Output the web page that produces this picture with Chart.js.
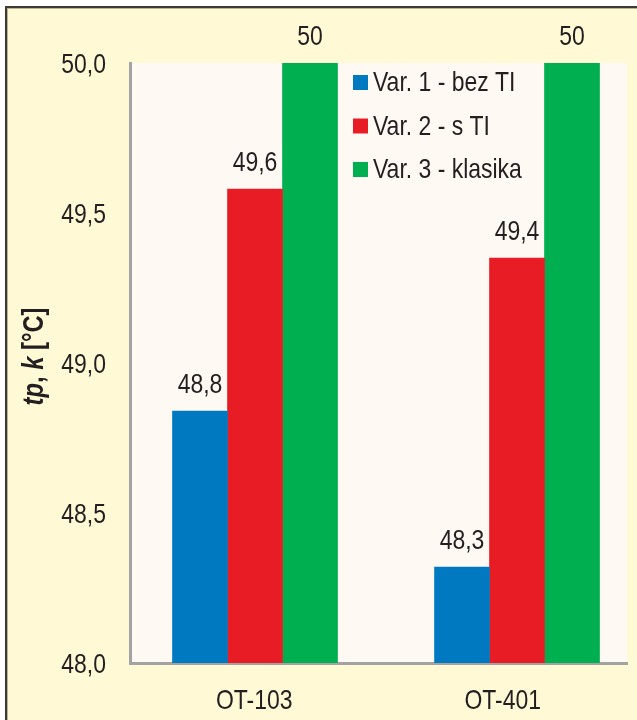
<!DOCTYPE html>
<html>
<head>
<meta charset="utf-8">
<script src="https://cdn.jsdelivr.net/npm/chart.js@4.4.1/dist/chart.umd.min.js"></script>
<style>
  html, body { margin: 0; padding: 0; background: #fff; overflow: hidden; }
  #frame {
    position: absolute; left: 5px; top: 6px; width: 680px; height: 760px;
    background: #FFF9D6; border-left: 2px solid #3c3b35; border-top: 2px solid #3c3b35;
    box-shadow: inset 1px 1px 0 #bdb58f;
  }
  #wrap { position: absolute; left: 0; top: 0; width: 637px; height: 720px; }
</style>
</head>
<body>
<div id="frame"></div>
<div id="wrap"><canvas id="chart" width="637" height="720"></canvas></div>
<script>
// ── Data ──────────────────────────────────────────────────────────────────────
const CATEGORIES = ['OT-103', 'OT-401'];
const SERIES     = ['Var. 1 - bez TI', 'Var. 2 - s TI', 'Var. 3 - klasika'];
const VAR1       = [48.84, 48.32];
const VAR2       = [49.58, 49.35];
const VAR3       = [50.0, 50.0];
const COLORS     = ['#0079C1', '#E81C24', '#00AF50'];
const Y_MIN = 48, Y_MAX = 50, Y_STEP = 0.5;

// Arial Narrow look: Liberation Sans squeezed horizontally
const FONT    = "'Liberation Sans', Arial, sans-serif";
const NARROW  = 0.82;
const TEXT    = '#231F20';
const AXIS    = '#A3A3A3';

const fmtTick  = v => v.toFixed(1).replace('.', ',');
const fmtLabel = v => String(Math.round(v * 10) / 10).replace('.', ',');

function narrowText(ctx, text, x, y, align, font) {
  ctx.save();
  ctx.font = font;
  ctx.textAlign = align;
  ctx.textBaseline = 'alphabetic';
  ctx.translate(x, y);
  ctx.scale(NARROW, 1);
  ctx.fillText(text, 0, 0);
  ctx.restore();
}

// ── Plugins ───────────────────────────────────────────────────────────────────
const plotBg = {
  id: 'plotBg',
  beforeDraw(chart) {
    const { ctx, chartArea: a } = chart;
    ctx.save();
    ctx.fillStyle = '#FFF9F3';
    ctx.fillRect(a.left, a.top, a.right - a.left, a.bottom - a.top);
    ctx.restore();
  }
};

// tick labels drawn in narrow type at the scales' own tick positions
const axisLabels = {
  id: 'axisLabels',
  afterDraw(chart) {
    const { ctx, scales } = chart;
    ctx.save();
    ctx.fillStyle = TEXT;
    scales.y.ticks.forEach(t => {
      narrowText(ctx, fmtTick(t.value), scales.y.right - 24, scales.y.getPixelForValue(t.value) + 10, 'right', '28px ' + FONT);
    });
    scales.x.ticks.forEach((t, i) => {
      narrowText(ctx, scales.x.getLabelForValue(t.value), scales.x.getPixelForTick(i), scales.x.top + 46, 'center', '28px ' + FONT);
    });
    ctx.restore();
  }
};

const valueLabels = {
  id: 'valueLabels',
  afterDatasetsDraw(chart) {
    const { ctx } = chart;
    ctx.save();
    ctx.fillStyle = TEXT;
    chart.data.datasets.forEach((ds, i) => {
      chart.getDatasetMeta(i).data.forEach((bar, j) => {
        narrowText(ctx, fmtLabel(ds.data[j].y), bar.x, bar.y - 18, 'center', '28px ' + FONT);
      });
    });
    ctx.restore();
  }
};

const insideLegend = {
  id: 'insideLegend',
  afterDraw(chart) {
    const { ctx } = chart;
    ctx.save();
    SERIES.forEach((name, i) => {
      const base = 91 + i * 43.5;
      ctx.fillStyle = COLORS[i];
      ctx.fillRect(353, base - 16, 15, 15);
      ctx.fillStyle = TEXT;
      narrowText(ctx, name, 373, base, 'left', '28px ' + FONT);
    });
    ctx.restore();
  }
};

// y axis title with mixed italics: "tp, k [°C]"
const yTitle = {
  id: 'yTitle',
  afterDraw(chart) {
    const { ctx } = chart;
    const parts = [
      ['tp', 'italic bold'], [', ', 'bold'], ['k', 'italic bold'], [' [°C]', 'bold']
    ];
    ctx.save();
    ctx.translate(43, 356.5);
    ctx.rotate(-Math.PI / 2);
    ctx.scale(NARROW, 1);
    ctx.fillStyle = TEXT;
    ctx.textBaseline = 'alphabetic';
    ctx.textAlign = 'left';
    let total = 0;
    parts.forEach(([t, s]) => { ctx.font = s + ' 29px ' + FONT; total += ctx.measureText(t).width; });
    let x = -total / 2;
    parts.forEach(([t, s]) => {
      ctx.font = s + ' 29px ' + FONT;
      ctx.fillText(t, x, 0);
      x += ctx.measureText(t).width;
    });
    ctx.restore();
  }
};

// ── Chart ─────────────────────────────────────────────────────────────────────
const toPoints = arr => arr.map((y, x) => ({ x, y }));

new Chart(document.getElementById('chart'), {
  type: 'bar',
  data: {
    labels: CATEGORIES,
    datasets: [VAR1, VAR2, VAR3].map((vals, i) => ({
      label: SERIES[i],
      data: toPoints(vals),
      backgroundColor: COLORS[i],
      borderWidth: 0,
      xAxisID: 'xb',
      barThickness: 55,
    }))
  },
  options: {
    responsive: false,
    animation: false,
    devicePixelRatio: 1,
    layout: { padding: { left: 0, top: 63, right: 10, bottom: 0 } },
    plugins: { legend: { display: false }, tooltip: { enabled: false } },
    scales: {
      x: {
        type: 'category',
        position: 'bottom',
        offset: true,
        grid: { display: false, drawTicks: false },
        border: { display: true, color: AXIS, width: 3 },
        ticks: { display: false },
        afterFit: s => { s.height = 57; }
      },
      xb: {
        type: 'linear',
        position: 'bottom',
        display: false,
        offset: false,
        min: -0.4771,
        max: 1.4198,
      },
      y: {
        min: Y_MIN,
        max: Y_MAX,
        grid: { display: false, drawTicks: false },
        border: { display: true, color: AXIS, width: 3 },
        ticks: { display: false, stepSize: Y_STEP },
        afterFit: s => { s.width = 130; }
      }
    }
  },
  plugins: [plotBg, valueLabels, axisLabels, insideLegend, yTitle]
});
</script>
</body>
</html>
